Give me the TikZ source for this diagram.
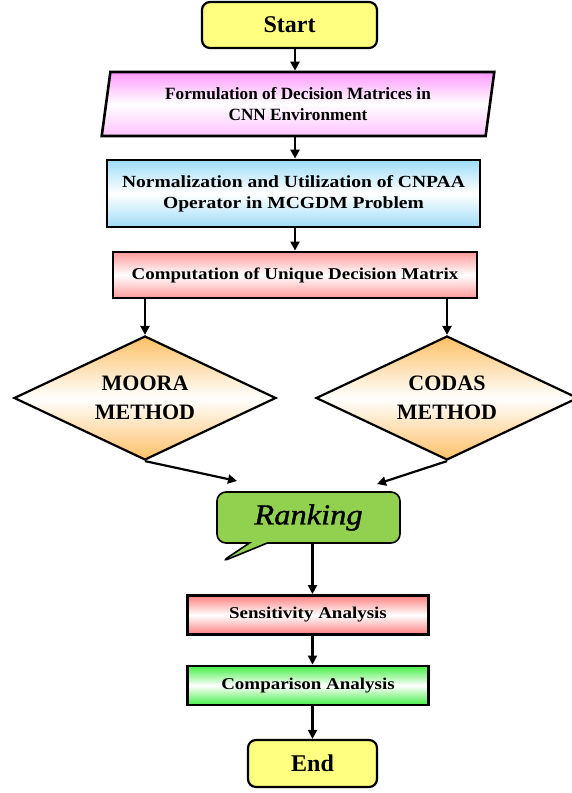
\documentclass[tikz,border=0pt]{standalone}
\usepackage{fontspec}
\setmainfont{Liberation Serif}
\newfontfamily\widefont[FakeStretch=1.15]{Liberation Serif}
\newfontfamily\rankfont[FakeStretch=1.12, FakeBold=1.2]{Liberation Serif}
\usetikzlibrary{positioning}
\usetikzlibrary{shapes.geometric, shapes.callouts, arrows.meta, shadings}

\definecolor{boxyellow}{HTML}{FFFF80}
\definecolor{rankgreen}{HTML}{92D050}
\definecolor{parapink}{HTML}{FF99FF}
\definecolor{normblue}{HTML}{9FDCF7}
\definecolor{comppink}{HTML}{FF9A9A}
\definecolor{sensred}{HTML}{FF8080}
\definecolor{compgreen}{HTML}{44EE44}
\definecolor{methorange}{HTML}{FDC066}

\tikzset{
  terminal/.style={draw, line width=2.2pt, rounded corners=8pt, fill=boxyellow,
    inner sep=0pt, font=\fontsize{24}{28}\selectfont\bfseries},
  stepbox/.style={draw, line width=2.8pt, inner sep=0pt, align=center,
    font=\widefont\fontsize{16.5}{21}\selectfont\bfseries},
  method/.style={diamond, draw, line width=2.2pt, aspect=2.1, inner sep=0pt,
    minimum width=262pt, minimum height=124pt, align=center,
    top color=methorange, bottom color=methorange, middle color=white,
    font=\fontsize{22}{28.5}\selectfont\bfseries},
  arr/.style={line width=2.2pt, -{Triangle[length=9pt, width=9pt]}}
}

\begin{document}
\begin{tikzpicture}[x=1pt, y=-1pt]
\useasboundingbox (0,0) rectangle (572,793);

\node[terminal, minimum width=175pt, minimum height=46pt] (start) at (289.5,25) {Start};
\node[trapezium, trapezium left angle=79.4, trapezium right angle=100.6,
   trapezium stretches=true, draw, line width=2.6pt, inner sep=0pt,
   minimum width=394pt, minimum height=64pt, align=center,
   top color=parapink, bottom color=parapink!60, middle color=white,
   font=\fontsize{17.2}{20.5}\selectfont\bfseries] (para) at (298,104)
   {Formulation of Decision Matrices in\\CNN Environment};
\node[stepbox, minimum width=373pt, minimum height=67pt, font=\widefont\fontsize{17}{21}\selectfont\bfseries,
   top color=normblue, bottom color=normblue, middle color=white] (norm) at (293.5,193.5)
   {Normalization and Utilization of CNPAA\\Operator in MCGDM Problem};
\node[stepbox, minimum width=364pt, minimum height=46pt,
   top color=comppink, bottom color=comppink, middle color=white] (comp) at (295,275)
   {Computation of Unique Decision Matrix};

\node[method] (moora) at (145,398) {MOORA\\METHOD};
\node[method] (codas) at (447,398) {CODAS\\METHOD};

\node[rectangle callout, callout absolute pointer={(221,562)}, callout pointer width=18pt,
   draw, line width=1.6pt, rounded corners=9pt, fill=rankgreen,
   minimum width=183pt, minimum height=51pt, inner sep=0pt,
   font=\rankfont\fontsize{29}{32}\selectfont\itshape] (rank) at (308.5,517.5) {Ranking};

\node[stepbox, minimum width=241pt, minimum height=39pt,
   top color=sensred, bottom color=sensred, middle color=white] (sens) at (308,615) {Sensitivity Analysis};
\node[stepbox, minimum width=241pt, minimum height=39pt,
   top color=compgreen, bottom color=compgreen, middle color=white] (cmpa) at (308,685.5) {Comparison Analysis};
\node[terminal, minimum width=129pt, minimum height=47pt] (end) at (312.5,763.5) {End};

% connectors
\coordinate (mooraend) at (237,481);
\coordinate (codasend) at (377,484);
\draw[arr] (start.south -| comp.north) -- (para.north -| comp.north);
\draw[arr] (para.south -| comp.north) -- (norm.north -| comp.north);
\draw[arr] (norm.south -| comp.north) -- (comp.north);
\draw[arr] (comp.south -| moora.north) -- (moora.north);
\draw[arr] (comp.south -| codas.north) -- (codas.north);
\draw[arr] (moora.south) -- (mooraend);
\draw[arr] (codas.south) -- (codasend);
\draw[arr] (rank.south -| end.north) -- (sens.north -| end.north);
\draw[arr] (sens.south -| end.north) -- (cmpa.north -| end.north);
\draw[arr] (cmpa.south -| end.north) -- (end.north);
\end{tikzpicture}
\end{document}
